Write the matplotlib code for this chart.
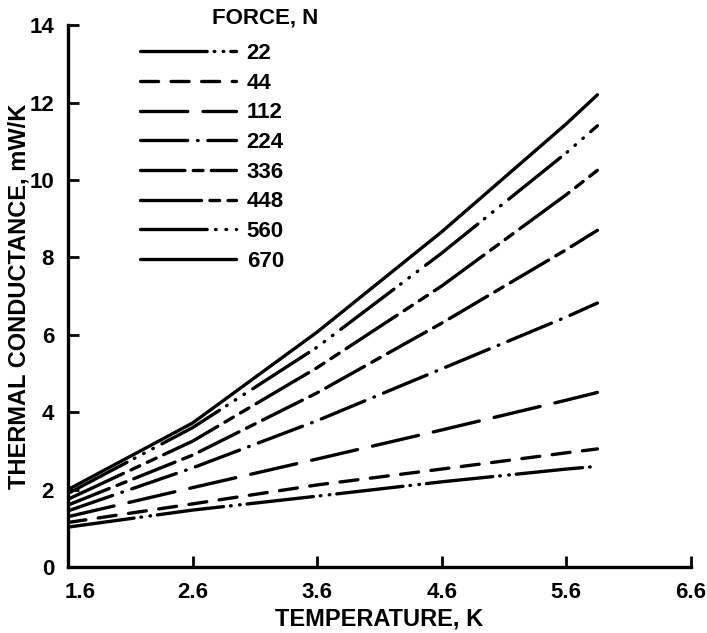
import matplotlib
matplotlib.use("Agg")
import matplotlib.pyplot as plt
from matplotlib.transforms import ScaledTranslation

plt.rcParams['font.family'] = ['Liberation Sans', 'DejaVu Sans']
plt.rcParams['font.weight'] = 'bold'
plt.rcParams['lines.scale_dashes'] = False

# Data
temperature = [1.6, 2.6, 3.6, 4.6, 5.6, 5.85]
forces = ["22", "44", "112", "224", "336", "448", "560", "670"]
k_22 = [1.03, 1.47, 1.83, 2.20, 2.53, 2.60]
k_44 = [1.15, 1.63, 2.12, 2.53, 2.95, 3.05]
k_112 = [1.30, 2.05, 2.79, 3.54, 4.31, 4.51]
k_224 = [1.45, 2.56, 3.78, 5.12, 6.46, 6.82]
k_336 = [1.60, 2.89, 4.50, 6.30, 8.20, 8.70]
k_448 = [1.75, 3.25, 5.15, 7.26, 9.62, 10.25]
k_560 = [1.90, 3.60, 5.68, 8.11, 10.70, 11.40]
k_670 = [2.00, 3.72, 6.07, 8.66, 11.45, 12.20]
series = [k_22, k_44, k_112, k_224, k_336, k_448, k_560, k_670]

x_ticks = [1.6, 2.6, 3.6, 4.6, 5.6, 6.6]
y_ticks = [0, 2, 4, 6, 8, 10, 12, 14]

dash_styles = [
    (0, (48, 5, 0.5, 6, 0.5, 5)),
    (0, (13, 9)),
    (0, (34, 11)),
    (0, (34, 7, 0.5, 7)),
    (0, (32, 6, 7, 6)),
    (0, (44, 6, 7, 6, 7, 6)),
    (0, (48, 6, 0.5, 7, 0.5, 7, 0.5, 7)),
    'solid',
]

fig = plt.figure(figsize=(7.07, 6.33), dpi=100)
ax = fig.add_axes([0.0962, 0.1043, 0.881, 0.856])

handles = []
for vals, ls, lab in zip(series, dash_styles, forces):
    ln, = ax.plot(temperature, vals, color='black', lw=2.4, linestyle=ls,
                  dash_capstyle='round', solid_capstyle='round', label=lab)
    handles.append(ln)

ax.set_xlim(1.6, 6.6)
ax.set_ylim(0, 14)
ax.set_xticks(x_ticks)
ax.set_xticklabels([f"{t:.1f}" for t in x_ticks])
ax.set_yticks(y_ticks)
ax.set_yticklabels([str(t) for t in y_ticks])
for s in ['top', 'right']:
    ax.spines[s].set_visible(False)
for s in ['left', 'bottom']:
    ax.spines[s].set_linewidth(2.4)
ax.tick_params(direction='in', length=8, width=2, labelsize=16)
ax.tick_params(axis='x', pad=11)
ax.tick_params(axis='y', pad=10)

# first x label sits slightly right of its tick in the reference
first = ax.get_xticklabels()[0]
first.set_transform(first.get_transform() + ScaledTranslation(0.12, 0, fig.dpi_scale_trans))

ax.set_xlabel("TEMPERATURE, K", fontsize=17, fontweight='bold', labelpad=3)
ax.set_ylabel("THERMAL CONDUCTANCE, mW/K", fontsize=17, fontweight='bold', labelpad=-1)

leg = ax.legend(handles=handles, loc='upper left',
                bbox_to_anchor=(140 / 707, 1 - 43 / 633),
                bbox_transform=fig.transFigure, frameon=False,
                fontsize=16, handlelength=4.3, handletextpad=0.5,
                labelspacing=0.39, borderpad=0, borderaxespad=0)
fig.text(212 / 707, 1 - 18 / 633, "FORCE, N", fontsize=16, fontweight='bold',
         ha='left', va='center')

fig.savefig("out.png", dpi=100)
